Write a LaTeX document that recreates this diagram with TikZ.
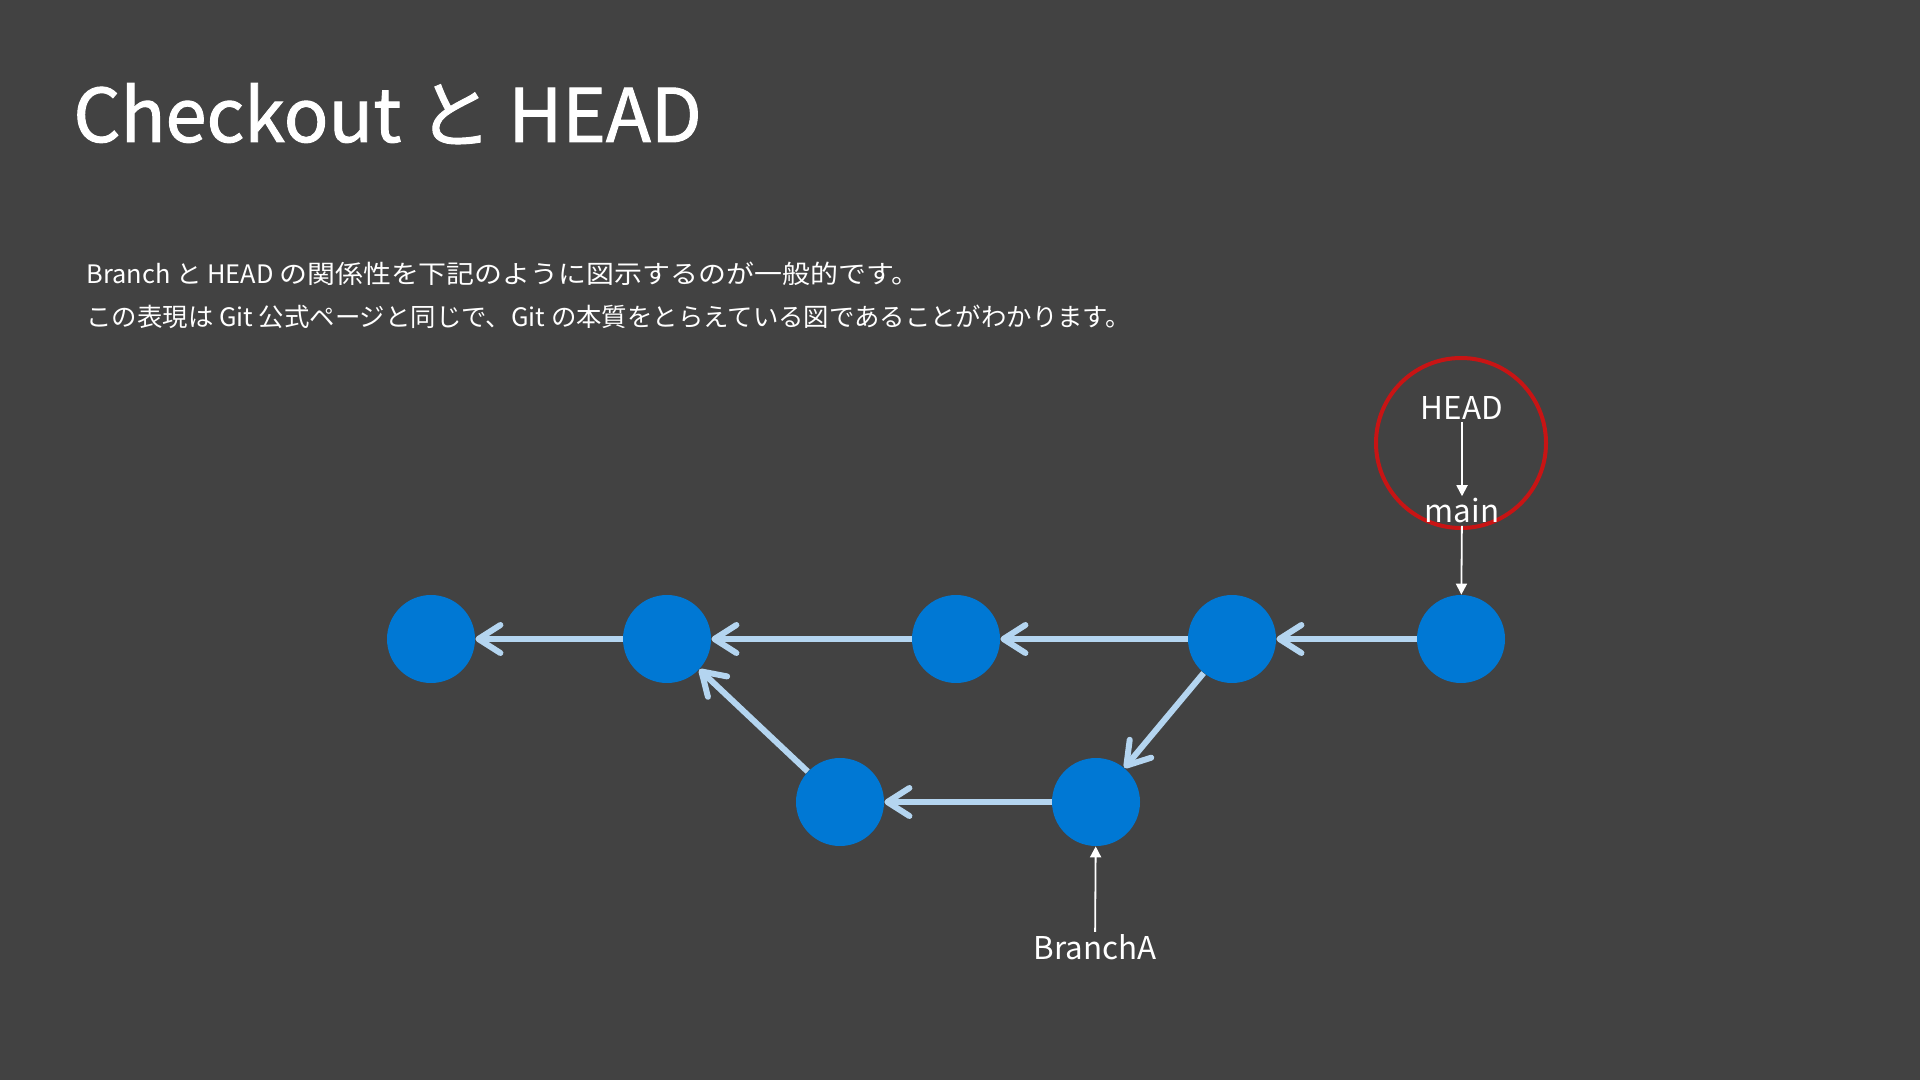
\documentclass[tikz,border=0pt]{standalone}
\usepackage{fontspec}
\setmainfont{Noto Sans CJK JP}
\newfontfamily\titlefont{Noto Sans CJK JP}[FakeBold=1.3]
\usepackage{graphicx}
\usetikzlibrary{arrows.meta}
\definecolor{bg}{HTML}{424242}
\definecolor{commitblue}{HTML}{0078D4}
\definecolor{edgeblue}{HTML}{B4D5F0}
\definecolor{ringred}{HTML}{C81414}
\begin{document}
\begin{tikzpicture}[x=0.5pt,y=-0.5pt,
  commit/.style={circle,fill=commitblue,minimum size=44pt,inner sep=0pt},
  parent/.style={draw=edgeblue,line width=3pt,-{Straight Barb[length=11pt,width=14pt,round]}},
  ref/.style={draw=white,line width=0.9pt,-{Triangle[length=5.5pt,width=5.5pt]}},
  lbl/.style={text=white,font=\fontsize{15.7}{19}\selectfont,inner sep=1pt},
  body/.style={anchor=base west,text=white,font=\fontsize{12.7}{15}\selectfont,inner sep=0pt},
]
\fill[bg] (0,0) rectangle (1920,1080);
\node[anchor=base west,text=white,font=\titlefont\fontsize{37}{45}\selectfont,inner sep=0pt] (title) at (73,142) {Checkout と HEAD};
\node[body] (line1) at (86,284) {Branch と HEAD \scalebox{1.1}[1]{の関係性を下記のように図示するのが一般的です。}};
\node[body] (line2) at (86,327) {この表現は Git 公式ページと同じで、Git の本質をとらえている図であることがわかります。};

\node[commit] (n1) at (431,639) {};
\node[commit] (n2) at (667,639) {};
\node[commit] (n3) at (956,639) {};
\node[commit] (n4) at (1232,639) {};
\node[commit] (n5) at (1461,639) {};
\node[commit] (n6) at (840,802) {};
\node[commit] (n7) at (1096,802) {};

\path[parent] (n2) -- (n1);
\path[parent] (n3) -- (n2);
\path[parent] (n4) -- (n3);
\path[parent] (n5) -- (n4);
\path[parent] (n4) -- (n7);
\path[parent] (n7) -- (n6);
\path[parent] (n6) -- (n2);

\node[circle,draw=ringred,line width=2pt,minimum size=85pt,inner sep=0pt] (ring) at (1461,443) {};
\node[lbl] (head) at (1462,408) {HEAD};
\node[lbl] (main) at (1462,511) {main};
\node[lbl] (branchA) at (1095,947) {BranchA};

\path[ref] (head) -- (main);
\path[ref] (main) -- (n5);
\path[ref] (branchA) -- (n7);
\end{tikzpicture}
\end{document}
